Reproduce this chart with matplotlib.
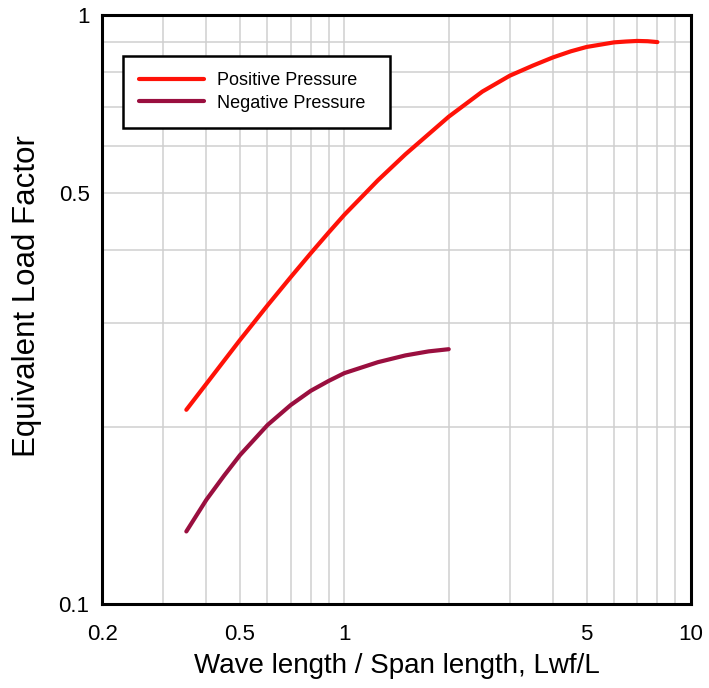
import numpy as np
import matplotlib.pyplot as plt
from matplotlib.ticker import FixedLocator, NullFormatter

# values
pos_x = [0.35, 0.4, 0.45, 0.5, 0.6, 0.7, 0.8, 0.9, 1.0, 1.25, 1.5, 2.0, 2.5, 3.0, 3.5,
         4.0, 4.5, 5.0, 6.0, 6.5, 7.0, 7.5, 8.0]
pos_y = [0.214, 0.237, 0.2594, 0.2812, 0.3218, 0.3594, 0.3947, 0.4277, 0.4587, 0.525, 0.581, 0.673, 0.7424, 0.790, 0.822,
         0.8487, 0.869, 0.884, 0.900, 0.903, 0.905, 0.904, 0.901]

neg_x = [0.35, 0.4, 0.45, 0.5, 0.6, 0.7, 0.8, 0.9, 1.0, 1.25, 1.5, 1.75, 2.0]
neg_y = [0.133, 0.1506, 0.1655, 0.1793, 0.2016, 0.218, 0.2305, 0.2395, 0.247, 0.2578, 0.2647, 0.2689, 0.2712]

x_ticks = [0.2, 0.5, 1, 5, 10]
x_labels = ["0.2", "0.5", "1", "5", "10"]
y_ticks = [0.1, 0.5, 1]
y_labels = ["0.1", "0.5", "1"]

plt.rcParams['font.family'] = ['Liberation Sans', 'DejaVu Sans']

fig = plt.figure(figsize=(7.09, 6.88), dpi=100)
ax = fig.add_axes([0.144, 0.1215, 0.8306, 0.8561])

ax.set_xscale('log')
ax.set_yscale('log')
ax.set_xlim(0.2, 10)
ax.set_ylim(0.1, 1)

ax.plot(pos_x, pos_y, color='#ff1208', lw=3, solid_capstyle='round', solid_joinstyle='round',
        label='Positive Pressure')
ax.plot(neg_x, neg_y, color='#9a0f3f', lw=3, solid_capstyle='round', solid_joinstyle='round',
        label='Negative Pressure')

# grid at every 1-9 step of each decade
xg = [m * 10.0 ** e for e in (-1, 0) for m in range(1, 10)]
xg = [v for v in xg if 0.2 < v < 10]
yg = [m * 0.1 for m in range(2, 10)]
ax.xaxis.set_minor_locator(FixedLocator(xg))
ax.yaxis.set_minor_locator(FixedLocator(yg))
ax.xaxis.set_minor_formatter(NullFormatter())
ax.yaxis.set_minor_formatter(NullFormatter())
ax.set_xticks(x_ticks)
ax.set_xticklabels(x_labels)
ax.set_yticks(y_ticks)
ax.set_yticklabels(y_labels)
ax.grid(True, which='both', color='#cfcfcf', lw=1.1)
ax.set_axisbelow(True)
ax.tick_params(which='both', length=0)
ax.tick_params(axis='x', pad=14, labelsize=16)
ax.tick_params(axis='y', pad=9, labelsize=16)

for s in ax.spines.values():
    s.set_linewidth(2.2)
    s.set_color('black')

ax.set_xlabel('Wave length / Span length, Lwf/L', fontsize=20, labelpad=6)
ax.set_ylabel('Equivalent Load Factor', fontsize=22.5)
ax.yaxis.set_label_coords(-0.102, 0.524)

leg = ax.legend(loc='upper left', bbox_to_anchor=(0.035, 0.6, 0.454, 0.331), mode='expand',
                borderaxespad=0, fontsize=13, frameon=True, fancybox=False, edgecolor='black',
                handlelength=3.6, handletextpad=0.75, borderpad=0.9, labelspacing=0.3)
leg.get_frame().set_linewidth(1.8)
leg.get_frame().set_alpha(1)

fig.savefig('out.png', dpi=100)
